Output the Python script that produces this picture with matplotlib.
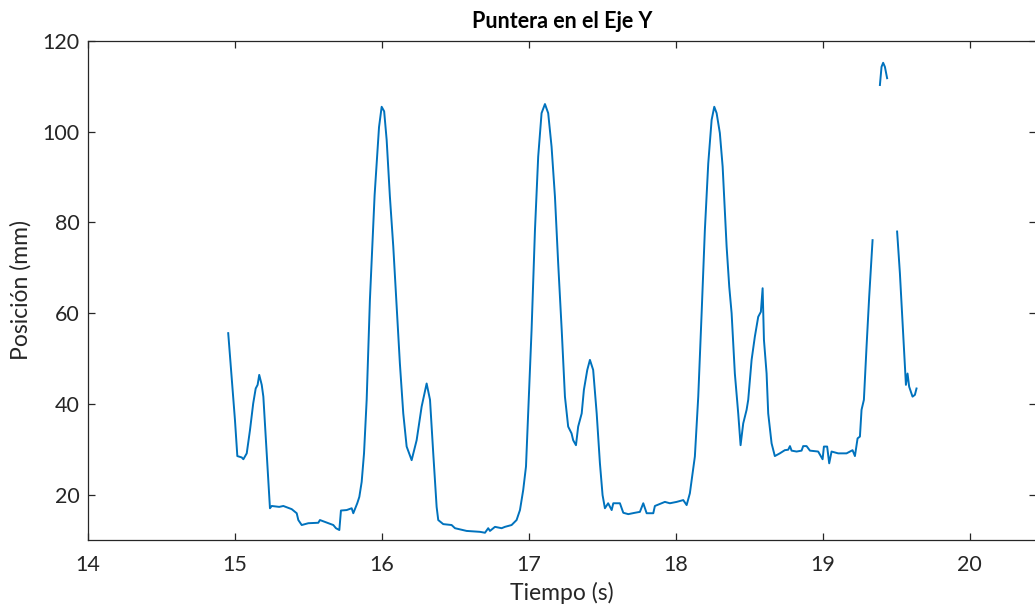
"""Puntera en el eje Y: posición frente al tiempo."""

import numpy as np
import matplotlib
matplotlib.use("Agg")
import matplotlib.pyplot as plt

# tiempo (s) y posición (mm); NaN = huecos sin dato
tiempo = [
    14.954, 15.000, 15.012, 15.016, 15.046, 15.057, 15.080, 15.102, 15.124, 15.141,
    15.154, 15.165, 15.182, 15.193, 15.216, 15.238, 15.250, 15.301, 15.329, 15.386,
    15.420, 15.431, 15.454, 15.499, 15.567, 15.578, 15.635, 15.669, 15.687, 15.710,
    15.721, 15.760, 15.794, 15.805, 15.832, 15.846, 15.862, 15.878, 15.896, 15.918,
    15.950, 15.980, 15.998, 16.015, 16.032, 16.054, 16.077, 16.100, 16.122, 16.145,
    16.168, 16.202, 16.236, 16.270, 16.304, 16.327, 16.349, 16.372, 16.383, 16.417,
    16.474, 16.497, 16.576, 16.667, 16.701, 16.723, 16.735, 16.769, 16.814, 16.837,
    16.882, 16.916, 16.939, 16.961, 16.980, 16.995, 17.018, 17.041, 17.063, 17.086,
    17.109, 17.131, 17.154, 17.177, 17.199, 17.223, 17.245, 17.267, 17.290, 17.301,
    17.320, 17.335, 17.359, 17.374, 17.397, 17.415, 17.437, 17.461, 17.483, 17.501,
    17.517, 17.539, 17.563, 17.574, 17.619, 17.642, 17.676, 17.721, 17.755, 17.778,
    17.801, 17.846, 17.857, 17.925, 17.959, 18.005, 18.050, 18.073, 18.095, 18.129,
    18.152, 18.175, 18.197, 18.220, 18.243, 18.261, 18.277, 18.299, 18.318, 18.345,
    18.363, 18.379, 18.401, 18.424, 18.440, 18.458, 18.481, 18.492, 18.515, 18.537,
    18.560, 18.578, 18.590, 18.599, 18.617, 18.628, 18.651, 18.673, 18.707, 18.741,
    18.764, 18.776, 18.787, 18.821, 18.855, 18.866, 18.889, 18.912, 18.968, 18.998,
    19.007, 19.029, 19.043, 19.059, 19.104, 19.161, 19.202, 19.218, 19.236, 19.252,
    19.263, 19.279, 19.297, 19.315, 19.338, 19.360,
    19.388, 19.399, 19.410, 19.422, 19.437, 19.470,
    19.505, 19.524, 19.542, 19.558, 19.565, 19.576, 19.587, 19.610, 19.626, 19.637,
]
posicion = [
    55.6, 36.4, 30.7, 28.5, 28.2, 27.8, 29.1, 34.2, 40.1, 43.4,
    44.2, 46.4, 44.2, 41.6, 29.1, 17.0, 17.5, 17.3, 17.5, 16.8,
    15.9, 14.4, 13.3, 13.7, 13.8, 14.4, 13.7, 13.3, 12.6, 12.2,
    16.5, 16.6, 17.0, 15.9, 18.1, 19.5, 22.8, 29.1, 40.9, 62.9,
    86.0, 101.0, 105.5, 104.5, 98.2, 85.7, 74.7, 61.4, 48.9, 37.9,
    30.6, 27.6, 32.0, 39.4, 44.5, 40.9, 29.1, 17.3, 14.4, 13.5,
    13.3, 12.6, 12.0, 11.8, 11.6, 12.6, 12.0, 12.9, 12.6, 12.9,
    13.3, 14.4, 16.6, 21.0, 26.2, 37.9, 56.3, 78.3, 94.5, 104.1,
    106.1, 104.1, 96.7, 85.7, 71.0, 56.3, 41.6, 35.0, 33.5, 32.0,
    30.9, 35.0, 37.9, 43.1, 47.5, 49.7, 47.5, 37.9, 26.9, 19.9,
    17.0, 18.1, 16.6, 18.1, 18.1, 16.0, 15.7, 16.0, 16.2, 18.1,
    15.9, 15.9, 17.5, 18.4, 18.1, 18.4, 18.8, 17.7, 20.3, 28.4,
    41.6, 60.0, 78.3, 93.0, 102.6, 105.5, 104.1, 99.7, 92.3, 74.7,
    65.8, 60.0, 46.7, 37.9, 30.9, 35.7, 38.7, 40.9, 49.7, 54.8,
    59.2, 60.3, 65.5, 54.1, 46.7, 37.9, 31.3, 28.5, 29.1, 29.8,
    29.9, 30.7, 29.7, 29.5, 29.7, 30.7, 30.7, 29.7, 29.5, 27.8,
    30.6, 30.6, 26.9, 29.5, 29.1, 29.1, 29.8, 28.5, 32.4, 32.8,
    38.7, 40.9, 52.6, 63.6, 76.1, np.nan,
    110.3, 114.3, 115.2, 114.3, 111.8, np.nan,
    78.0, 68.8, 57.8, 48.2, 44.2, 46.7, 43.8, 41.6, 42.0, 43.4,
]

x_ticks = [14, 15, 16, 17, 18, 19, 20]
y_ticks = [20, 40, 60, 80, 100, 120]

plt.rcParams["font.family"] = ["Lato", "DejaVu Sans"]
GRIS = "#262626"

fig = plt.figure(figsize=(10.35, 6.11), dpi=100)
ax = fig.add_axes([88 / 1035, 1 - 540 / 611, 948 / 1035, 499 / 611])

ax.plot(tiempo, posicion, color="#0072BD", linewidth=1.4)

ax.set_xlim(14, 20.45)
ax.set_ylim(10, 120)
ax.set_xticks(x_ticks)
ax.set_yticks(y_ticks)
ax.tick_params(direction="in", length=5, width=0.9, colors=GRIS,
               labelsize=15.5, top=True, right=True)
ax.tick_params(axis="x", pad=11)
ax.tick_params(axis="y", pad=6)
for sp in ax.spines.values():
    sp.set_color(GRIS)
    sp.set_linewidth(0.9)

ax.set_xlabel("Tiempo (s)", fontsize=16.5, color=GRIS, labelpad=5)
ax.set_ylabel("Posición (mm)", fontsize=16.5, color=GRIS, labelpad=8)
ax.set_title("Puntera en el Eje Y", fontsize=15.5, fontweight="bold", pad=9)

fig.savefig("out.png", dpi=100)
